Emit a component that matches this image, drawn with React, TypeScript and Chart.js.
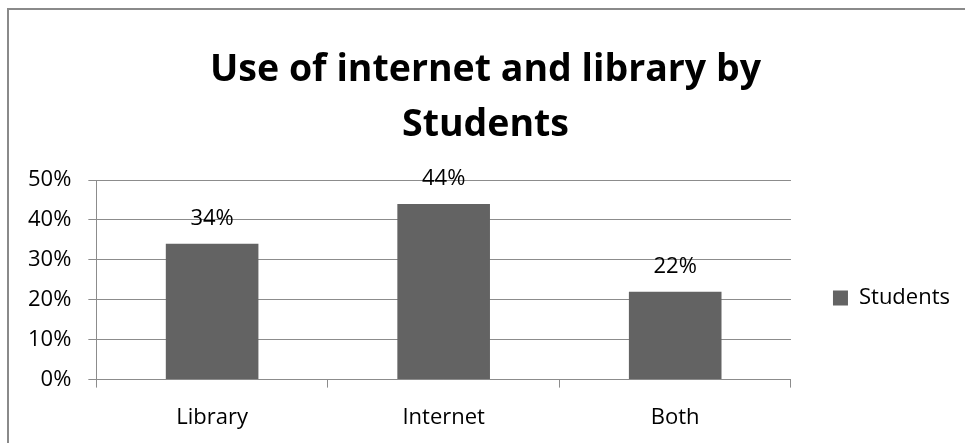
import React, { useEffect, useRef } from "react";
import { Chart, registerables } from "chart.js";

Chart.register(...registerables);

const categories = ["Library", "Internet", "Both"];
const seriesName = "Students";
const values = [34, 44, 22];
const titleLines = ["Use of internet and library by", "Students"];
const yMax = 50;
const yStep = 10;

const FONT = "'Open Sans', 'Noto Sans', sans-serif";
const BAR = "#636363";
const GRID = "#8c8c8c";

const valueLabels = {
  id: "valueLabels",
  afterDatasetsDraw(chart: any) {
    const ctx = chart.ctx;
    const meta = chart.getDatasetMeta(0);
    const data = chart.data.datasets[0].data as number[];
    ctx.save();
    ctx.font = `22px ${FONT}`;
    ctx.fillStyle = "#000";
    ctx.textAlign = "center";
    ctx.textBaseline = "alphabetic";
    meta.data.forEach((el: any, i: number) => {
      ctx.fillText(`${data[i]}%`, el.x, el.y - 18.5);
    });
    ctx.restore();
  },
};

export default function App() {
  const ref = useRef<HTMLCanvasElement | null>(null);
  useEffect(() => {
    if (!ref.current) return;
    const chart = new Chart(ref.current, {
      type: "bar",
      data: {
        labels: categories,
        datasets: [
          {
            label: seriesName,
            data: values,
            backgroundColor: BAR,
            borderWidth: 0,
            barPercentage: 0.4,
            categoryPercentage: 1,
          },
        ],
      },
      options: {
        responsive: false,
        animation: false,
        layout: { padding: { left: 3, right: 0, top: 0, bottom: -5 } },
        plugins: {
          tooltip: { enabled: false },
          title: {
            display: true,
            text: titleLines,
            color: "#000",
            font: { family: FONT, size: 37.5, weight: "bold", lineHeight: 55 / 37.5 },
            padding: { top: 32.5, bottom: 27.5 },
          },
          legend: {
            position: "right",
            align: "start",
            fullSize: false,
            title: { display: true, text: "", padding: { top: 53, bottom: 0 }, font: { size: 10 } },
            labels: {
              boxWidth: 15,
              boxHeight: 15,
              padding: 42,
              color: "#000",
              font: { family: FONT, size: 22 },
            },
          },
        },
        scales: {
          x: {
            offset: true,
            grid: {
              offset: true,
              drawOnChartArea: false,
              drawTicks: true,
              tickLength: 8,
              color: GRID,
            },
            border: { color: GRID },
            ticks: { color: "#000", padding: 17, font: { family: FONT, size: 22 } },
          },
          y: {
            min: 0,
            max: yMax,
            ticks: {
              stepSize: yStep,
              color: "#000",
              padding: 17,
              font: { family: FONT, size: 22 },
              callback: (v: any) => `${v}%`,
            },
            grid: { color: GRID, tickLength: 8 },
            border: { color: GRID },
          },
        },
      },
      plugins: [valueLabels],
    });
    return () => chart.destroy();
  }, []);

  return (
    <div>
      <div
        style={{
          position: "absolute",
          left: 7,
          top: 8,
          width: 956,
          height: 433,
          borderTop: "2px solid #8a8a8a",
          borderLeft: "2px solid #8a8a8a",
        }}
      />
      <canvas
        ref={ref}
        width={952}
        height={433}
        style={{ position: "absolute", left: 8, top: 10, width: 952, height: 433 }}
      />
    </div>
  );
}
